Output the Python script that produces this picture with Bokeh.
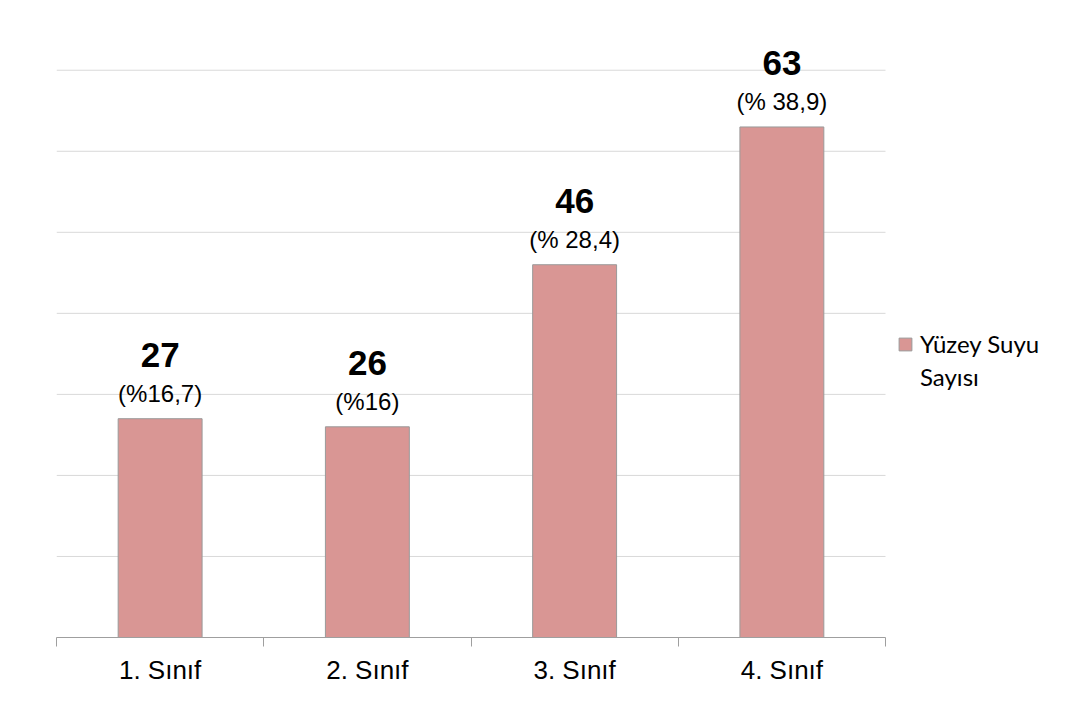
from bokeh.plotting import figure
from bokeh.models import (ColumnDataSource, Range1d, FixedTicker, Legend, LegendItem)
from bokeh.core.properties import value
from bokeh.embed import file_html
from bokeh.resources import INLINE

categories = ["1. Sınıf", "2. Sınıf", "3. Sınıf", "4. Sınıf"]
counts = [27, 26, 46, 63]
pct_labels = ["(%16,7)", "(%16)", "(% 28,4)", "(% 38,9)"]
series_name_lines = ["Yüzey Suyu", "Sayısı"]
grid_values = [10, 20, 30, 40, 50, 60, 70]

n = len(categories)
xs = [i + 0.5 for i in range(n)]
src = ColumnDataSource(dict(x=xs, y=counts, cnt=[str(c) for c in counts], pct=pct_labels))
grid_src = ColumnDataSource(dict(y=grid_values, x0=[0] * len(grid_values), x1=[n] * len(grid_values)))

W, H = 1052, 699
left, bottom, top = 56, 62, 13
cat_px = 829  # width of the category area in pixels
x_end = n * (W - left) / cat_px

p = figure(width=W, height=H, x_range=Range1d(0, x_end), y_range=Range1d(0, 77),
           output_backend="svg", toolbar_location=None,
           min_border_left=left, min_border_right=0, min_border_top=top, min_border_bottom=bottom)

p.segment(x0="x0", x1="x1", y0="y", y1="y", source=grid_src, line_color="#D9D9D9", line_width=1)

bars = p.vbar(x="x", top="y", width=0.405, bottom=0, source=src,
              fill_color="#D99694", line_color="#9A9A9A", line_width=1)
# empty, invisible renderer used only for the second line of the legend label
blank = p.vbar(x=[], top=[], width=0.4, fill_alpha=0, line_alpha=0)

p.text(x="x", y="y", text="pct", source=src, y_offset=-25,
       text_font=value("Liberation Sans"), text_font_size="24px",
       text_align="center", text_baseline="alphabetic", text_color="#000000")
p.text(x="x", y="y", text="cnt", source=src, y_offset=-64,
       text_font=value("Liberation Sans"), text_font_size="35px", text_font_style="bold",
       text_align="center", text_baseline="alphabetic", text_color="#000000")

p.yaxis.visible = False
p.ygrid.grid_line_color = None
p.xgrid.grid_line_color = None
p.outline_line_color = None

xa = p.xaxis[0]
xa.bounds = (0, n)
xa.ticker = FixedTicker(ticks=xs, minor_ticks=list(range(n + 1)))
xa.major_label_overrides = {x: c for x, c in zip(xs, categories)}
xa.major_tick_line_color = None
xa.major_tick_out = 0
xa.major_tick_in = 0
xa.minor_tick_line_color = "#9F9F9F"
xa.minor_tick_out = 9
xa.minor_tick_in = 0
xa.axis_line_color = "#9F9F9F"
xa.major_label_text_font = "Liberation Sans"
xa.major_label_text_font_size = "26px"
xa.major_label_text_color = "#000000"
xa.major_label_standoff = 8

legend = Legend(items=[LegendItem(label=series_name_lines[0], renderers=[bars]),
                       LegendItem(label=series_name_lines[1], renderers=[blank])],
                location=(841, 246), padding=0, margin=0, spacing=4,
                glyph_width=16, glyph_height=16, label_standoff=7,
                label_text_font="Lato", label_text_font_size="24px",
                label_text_color="#000000", border_line_color=None,
                background_fill_alpha=0)
p.add_layout(legend)

p.background_fill_color = "#FFFFFF"
p.border_fill_color = "#FFFFFF"

open("out.html", "w").write(file_html(p, INLINE))
